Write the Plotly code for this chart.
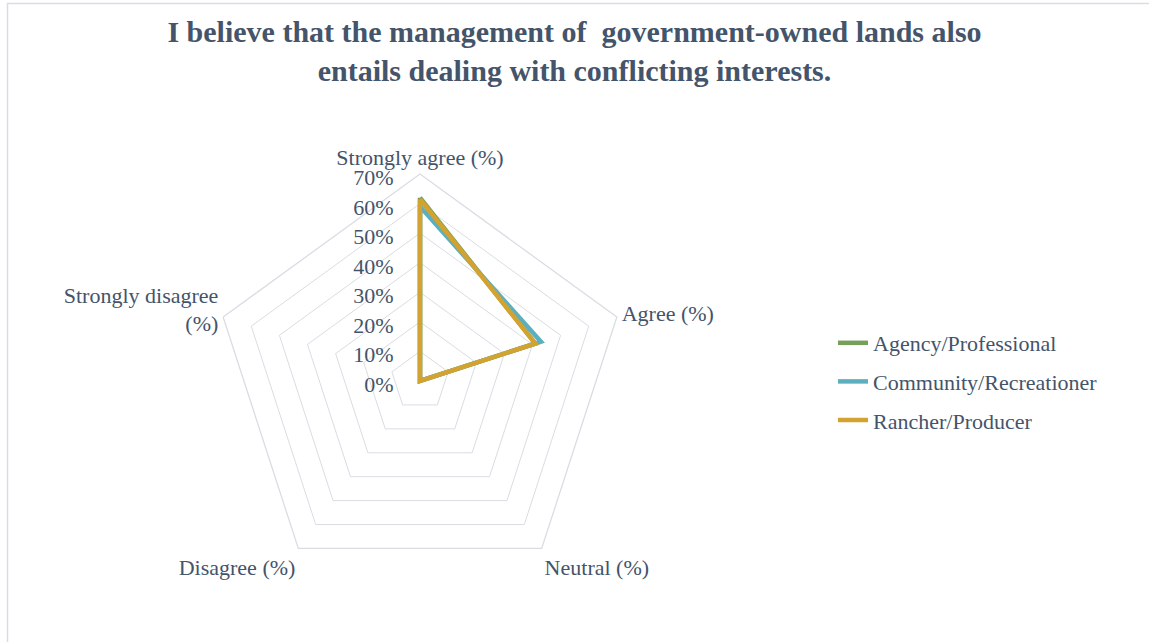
import plotly.graph_objects as go

categories = ["Strongly agree (%)", "Agree (%)", "Neutral (%)", "Disagree (%)",
              "Strongly disagree<br>(%)"]
agency = [0.62, 0.41, 0.0, 0.0, 0.0]
community = [0.59, 0.43, 0.0, 0.0, 0.0]
rancher = [0.615, 0.41, 0.0, 0.0, 0.0]

series = [
    ("Agency/Professional", agency, "#76A05A"),
    ("Community/Recreationer", community, "#5BAFBE"),
    ("Rancher/Producer", rancher, "#D4A22E"),
]

W, H = 1149, 642
text_color = "#44546A"
grid_color = "#D9DDE3"
font_family = "Liberation Serif, DejaVu Serif, serif"

fig = go.Figure()
for i, (name, vals, color) in enumerate(series):
    fig.add_trace(go.Scatterpolar(
        r=vals + vals[:1],
        theta=categories + categories[:1],
        mode="lines",
        name=name,
        legendgroup=f"g{i}",
        line=dict(color=color, width=4.5),
    ))

# polar area: centre (420, 381), 70% ring radius ~207 px
cx, cy, rad = 420, 381, 207
fig.update_layout(
    width=W, height=H,
    margin=dict(l=0, r=0, t=0, b=0),
    paper_bgcolor="white",
    plot_bgcolor="white",
    font=dict(family=font_family, color=text_color, size=22),
    title=dict(
        text="<b>I believe that the management of  government-owned lands also<br>entails dealing with conflicting interests.</b>",
        x=0.5, xanchor="center", y=1 - 42 / H, yanchor="middle",
        font=dict(size=30, color=text_color, family=font_family),
    ),
    polar=dict(
        domain=dict(x=[(cx - rad) / W, (cx + rad) / W],
                    y=[(H - cy - rad) / H, (H - cy + rad) / H]),
        bgcolor="white",
        gridshape="linear",
        radialaxis=dict(
            range=[0, 0.7], dtick=0.1, tickformat=".0%",
            angle=90, side="counterclockwise",
            showline=False, gridcolor=grid_color, gridwidth=1.3,
            ticks="outside", ticklen=6, tickcolor="rgba(0,0,0,0)",
            tickfont=dict(size=22, color=text_color, family=font_family),
        ),
        angularaxis=dict(
            rotation=90, direction="clockwise",
            showgrid=False, showline=True, linecolor=grid_color, linewidth=1.3,
            ticks="",
            tickfont=dict(size=22, color=text_color, family=font_family),
        ),
    ),
    legend=dict(
        x=833 / W, y=(H - 322) / H, xanchor="left", yanchor="top",
        font=dict(size=22, color=text_color, family=font_family),
        tracegroupgap=7, itemwidth=30,
        bgcolor="rgba(0,0,0,0)",
    ),
    shapes=[dict(type="rect", xref="paper", yref="paper",
                 x0=7.5 / W, x1=1.01, y0=-0.01, y1=(H - 3.5) / H,
                 line=dict(color="#D9DDE3", width=1.5), fillcolor="rgba(0,0,0,0)",
                 layer="below")],
)

fig.write_html("out.html")
